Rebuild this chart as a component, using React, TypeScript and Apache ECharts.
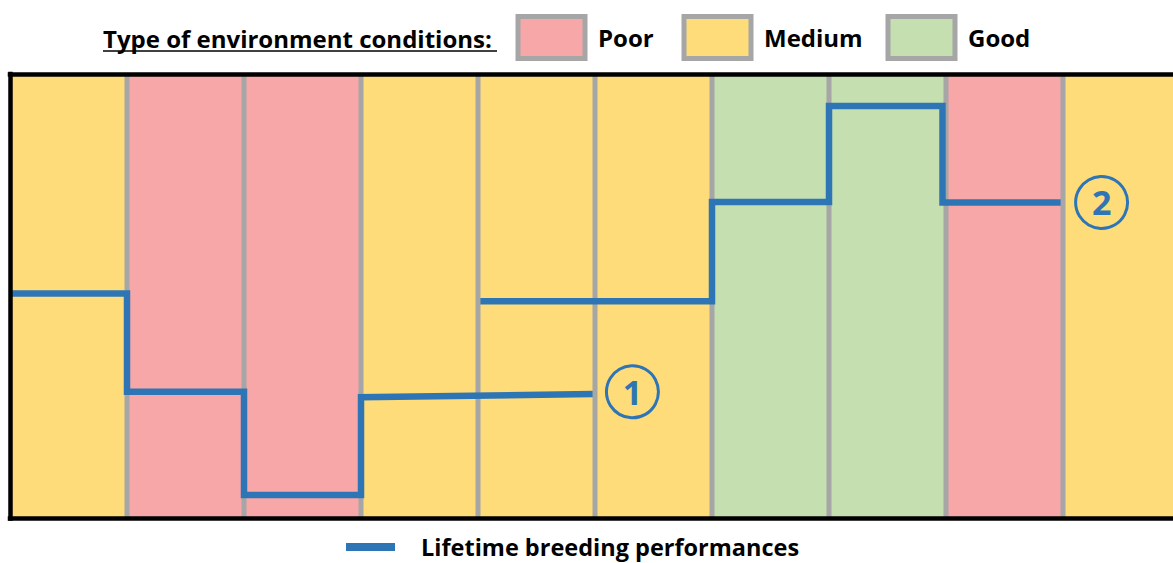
import React, { useEffect, useRef } from "react";
import * as echarts from "echarts";

const conditionTypes = ["Poor", "Medium", "Good"];
const conditionColors = ["#F8A7A9", "#FEDC7A", "#C5DFB0"];
const columnConditions = ["Medium", "Poor", "Poor", "Medium", "Medium", "Medium", "Good", "Good", "Poor", "Medium"];
const lifetime1 = [[0, 50.6], [1, 50.6], [1, 28.5], [2, 28.5], [2, 5.3], [3, 5.3], [3, 27.3], [4.98, 28.0]];
const lifetime2 = [[4.02, 48.9], [6, 48.9], [6, 71.2], [7, 71.2], [7, 92.8], [7.97, 92.8], [7.97, 71.1], [8.98, 71.1]];
const markers = [
  { label: "1", x: 5.32, y: 28.5 },
  { label: "2", x: 9.33, y: 71.1 },
];
const lineName = "Lifetime breeding performances";
const legendTitle = "Type of environment conditions:";

const BLUE = "#2E75B6";
const GRAY = "#A6A6A6";
const FONT = "Open Sans";

export default function App() {
  const ref = useRef<HTMLDivElement>(null);
  useEffect(() => {
    if (!ref.current) return;
    const chart = echarts.init(ref.current, null, { renderer: "svg" });

    const columnSeries = conditionTypes.map((type, ti) => ({
      type: "custom",
      name: type,
      z: 2,
      itemStyle: { color: conditionColors[ti] },
      encode: { x: [0, 1] },
      data: columnConditions
        .map((c, i) => (c === type ? [i, i + 1] : null))
        .filter((d) => d !== null),
      renderItem: (params: any, api: any) => {
        const s = api.value(0);
        const e = api.value(1);
        const tl = api.coord([s, 100]);
        const br = api.coord([e, 0]);
        return {
          type: "rect",
          shape: { x: tl[0], y: tl[1], width: br[0] - tl[0], height: br[1] - tl[1] },
          style: { fill: api.visual("color") },
        };
      },
    }));

    const separatorSeries = {
      type: "custom",
      name: "separators",
      z: 3,
      encode: { x: 0 },
      data: columnConditions.slice(1).map((_, i) => [i + 1]),
      renderItem: (params: any, api: any) => {
        const x = api.value(0);
        const t = api.coord([x, 100]);
        const b = api.coord([x, 0]);
        return {
          type: "line",
          shape: { x1: t[0], y1: t[1], x2: b[0], y2: b[1] },
          style: { stroke: GRAY, lineWidth: 5 },
        };
      },
    };

    const markerOpt = (m: { label: string; x: number; y: number }) => ({
      symbol: "circle",
      symbolSize: 52,
      silent: true,
      itemStyle: { color: "rgba(0,0,0,0)", borderColor: BLUE, borderWidth: 3 },
      label: {
        show: true,
        position: "inside",
        formatter: m.label,
        color: BLUE,
        fontSize: 34,
        fontWeight: "bold",
        fontFamily: FONT,
      },
      data: [{ coord: [m.x, m.y] }],
    });

    const lineSeries = [lifetime1, lifetime2].map((d, i) => ({
      type: "line",
      name: lineName,
      z: 5,
      symbol: "none",
      color: BLUE,
      lineStyle: { color: BLUE, width: 6.5, join: "miter", cap: "butt" },
      data: d,
      markPoint: markerOpt(markers[i]),
    }));

    const boxLegend = (name: string, left: number) => ({
      data: [{ name, icon: "rect" }],
      left,
      top: 14,
      padding: 0,
      itemWidth: 67,
      itemHeight: 42,
      selectedMode: false,
      itemStyle: { borderColor: GRAY, borderWidth: 5 },
      textStyle: {
        fontFamily: FONT,
        fontSize: 24,
        fontWeight: "bold",
        color: "#000",
        padding: [0, 0, 0, 8],
      },
    });

    const frameLine = { show: true, lineStyle: { color: "#000", width: 4.5, cap: "square" } };

    chart.setOption({
      animation: false,
      title: {
        text: legendTitle,
        left: 103,
        top: 26,
        padding: 0,
        textStyle: { fontFamily: FONT, fontSize: 24, fontWeight: "bold", color: "#000" },
      },
      graphic: [
        {
          type: "line",
          shape: { x1: 103, y1: 51, x2: 497, y2: 51 },
          style: { stroke: "#000", lineWidth: 1.5 },
        },
      ],
      legend: [
        boxLegend("Poor", 515.5),
        boxLegend("Medium", 681.5),
        boxLegend("Good", 885.5),
        {
          data: [{ name: lineName, icon: "rect" }],
          left: 346,
          top: 535,
          padding: 0,
          itemWidth: 49,
          itemHeight: 8,
          selectedMode: false,
          textStyle: {
            fontFamily: FONT,
            fontSize: 23.5,
            fontWeight: "bold",
            color: "#000",
            padding: [0, 0, 0, 21],
          },
        },
      ],
      grid: { left: 10, top: 74, width: 1170, height: 444.5, containLabel: false },
      xAxis: [
        {
          type: "value",
          min: 0,
          max: 10,
          interval: 1,
          position: "bottom",
          z: 10,
          axisLine: frameLine,
          axisTick: { show: false },
          axisLabel: { show: false },
          splitLine: { show: false },
        },
        {
          type: "value",
          min: 0,
          max: 10,
          interval: 1,
          position: "top",
          z: 10,
          axisLine: frameLine,
          axisTick: { show: false },
          axisLabel: { show: false },
          splitLine: { show: false },
        },
      ],
      yAxis: {
        type: "value",
        min: 0,
        max: 100,
        interval: 20,
        z: 10,
        axisLine: frameLine,
        axisTick: { show: false },
        axisLabel: { show: false },
        splitLine: { show: false },
      },
      series: [...columnSeries, separatorSeries, ...lineSeries],
    });
    return () => chart.dispose();
  }, []);

  return (
    <div style={{ position: "fixed", left: 0, top: 0, width: 1173, height: 563, overflow: "hidden", background: "#fff" }}>
      <div ref={ref} style={{ width: 1190, height: 563 }} />
    </div>
  );
}
